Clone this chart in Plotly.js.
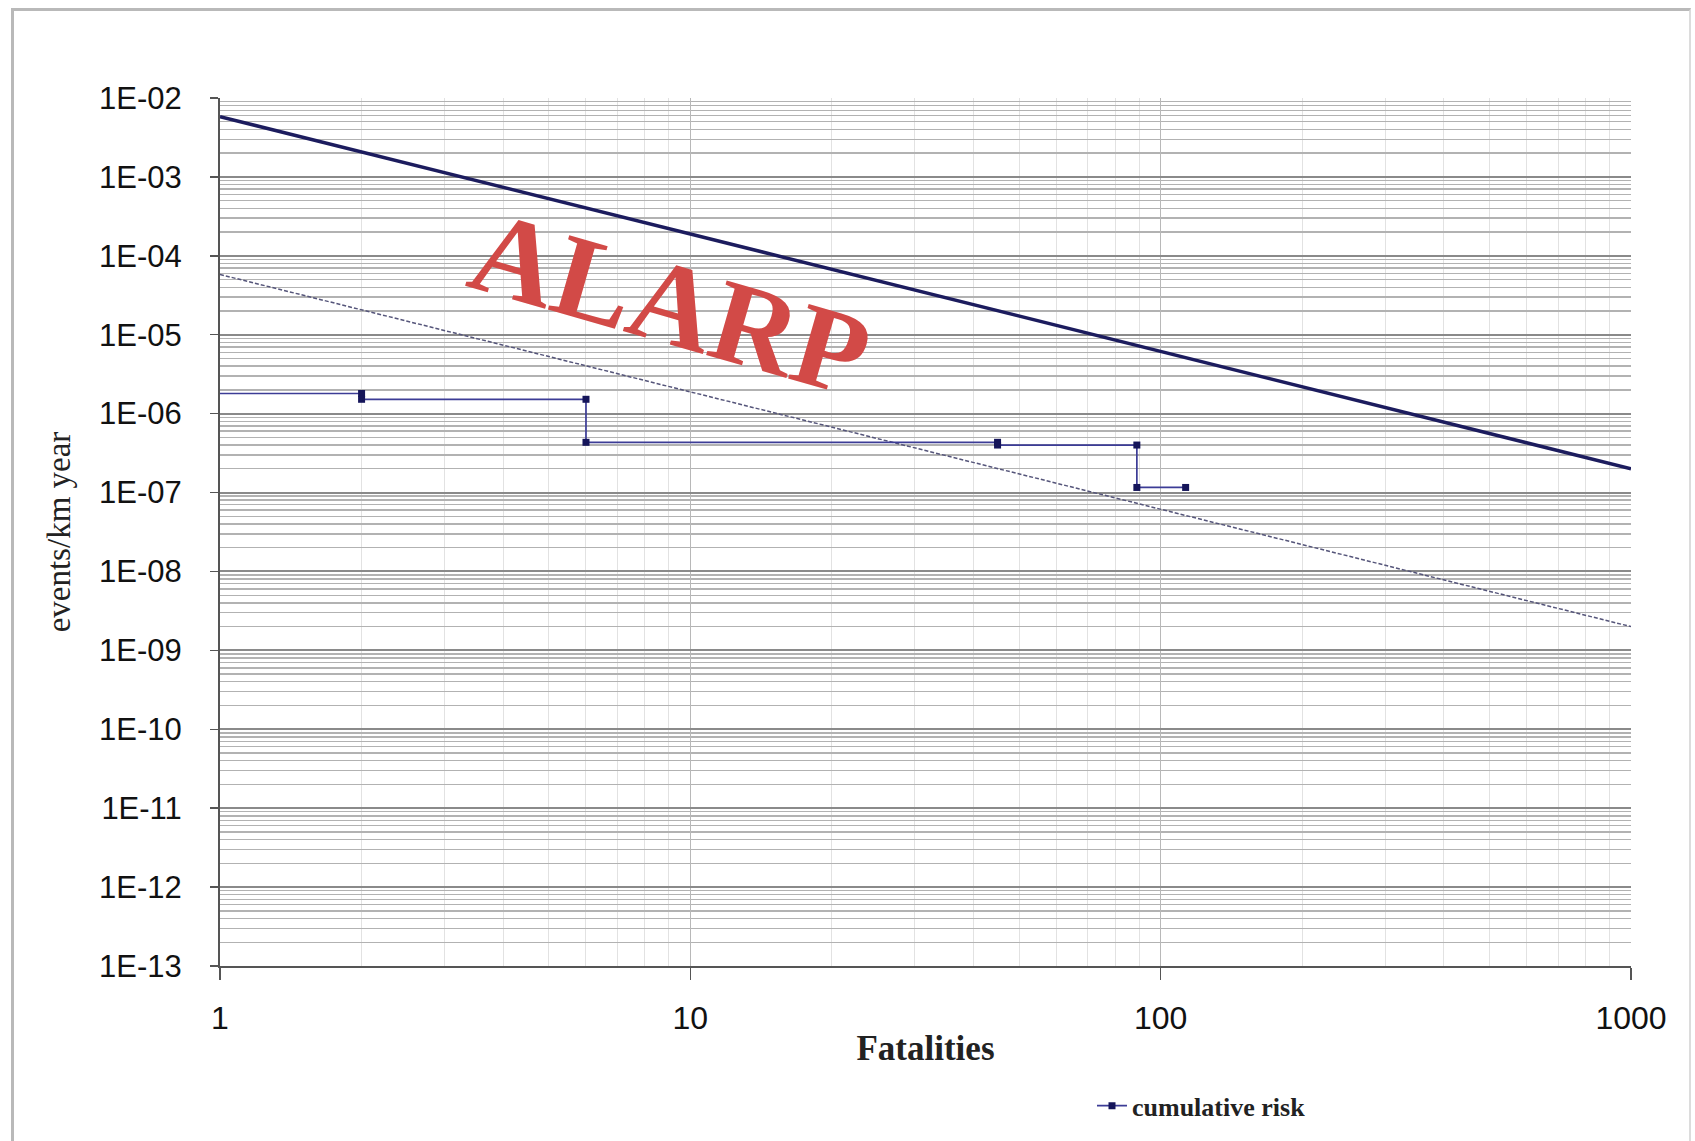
<!DOCTYPE html>
<html>
<head>
<meta charset="utf-8">
<script src="https://cdn.plot.ly/plotly-3.0.1.min.js"></script>
<style>
  html, body { margin: 0; padding: 0; background: #ffffff; overflow: hidden; }
  #frame { position: absolute; left: 11px; top: 8px; width: 1675px; height: 1140px;
           border-left: 3px solid #b9b9b9; border-top: 3px solid #b9b9b9; border-right: 2px solid #dcdcdc; }
  #chart { position: absolute; left: 0; top: 0; width: 1695px; height: 1141px; }
</style>
</head>
<body>
<div id="frame"></div>
<div id="chart"></div>
<script>
// ---- data ----
const limitFatalities = [1, 1000];
const upperLimit = [5.8e-3, 2.0e-7];          // intolerable line
const lowerLimit = [5.8e-5, 2.0e-9];          // negligible line (dashed)

const stepFatalities = [1, 2, 2, 6, 6, 45, 45, 89, 89, 113];
const stepRisk = [1.8e-6, 1.8e-6, 1.52e-6, 1.52e-6, 4.33e-7, 4.33e-7, 4.0e-7, 4.0e-7, 1.16e-7, 1.16e-7];

const xTickVals = [1, 10, 100, 1000];
const xTickText = ['1', '10', '100', '1000'];
const yTickVals = [1e-13, 1e-12, 1e-11, 1e-10, 1e-9, 1e-8, 1e-7, 1e-6, 1e-5, 1e-4, 1e-3, 1e-2];
const yTickText = ['1E-13', '1E-12', '1E-11', '1E-10', '1E-09', '1E-08', '1E-07', '1E-06', '1E-05', '1E-04', '1E-03', '1E-02'];

const seriesName = 'cumulative risk';
const regionLabel = 'ALARP';
const xTitle = 'Fatalities';
const yTitle = 'events/km year';

// ---- traces ----
const traces = [
  {
    x: limitFatalities, y: upperLimit, mode: 'lines', showlegend: false, hoverinfo: 'skip',
    line: { color: '#1c1c5e', width: 3.5 }
  },
  {
    x: limitFatalities, y: lowerLimit, mode: 'lines', showlegend: false, hoverinfo: 'skip',
    line: { color: '#55557a', width: 1.5, dash: '4px,2px' }
  },
  {
    // lead-in segment of the step curve (no marker at the axis)
    x: stepFatalities.slice(0, 2), y: stepRisk.slice(0, 2), mode: 'lines', showlegend: false,
    line: { color: '#3c3c96', width: 1.7 }
  },
  {
    name: seriesName,
    x: stepFatalities.slice(1), y: stepRisk.slice(1), mode: 'lines+markers',
    line: { color: '#3c3c96', width: 1.7 },
    marker: { symbol: 'square', size: 7, color: '#15155a' }
  }
];

const layout = {
  width: 1695, height: 1141,
  margin: { l: 220, r: 64, t: 98, b: 175 },
  paper_bgcolor: 'rgba(0,0,0,0)',
  plot_bgcolor: '#ffffff',
  font: { family: 'Liberation Sans, Arial, sans-serif', color: '#111111' },
  xaxis: {
    type: 'log', range: [0, 3],
    tickmode: 'array', tickvals: xTickVals, ticktext: xTickText,
    tickfont: { size: 32, family: 'Liberation Sans, Arial, sans-serif', color: '#111' },
    ticks: 'outside', ticklen: 12, tickwidth: 1.5, tickcolor: '#555',
    ticklabelstandoff: 11,
    showline: true, linecolor: '#555', linewidth: 2,
    showgrid: true, gridcolor: '#b8b8b8', gridwidth: 1,
    minor: { dtick: 'D1', showgrid: true, gridcolor: '#e2e2e2', gridwidth: 1, ticks: '' },
    zeroline: false,
    title: { text: '<b>' + xTitle + '</b>', font: { family: 'Liberation Serif, Times New Roman, serif', size: 35, color: '#222' }, standoff: 0 }
  },
  yaxis: {
    type: 'log', range: [-13, -2],
    tickmode: 'array', tickvals: yTickVals, ticktext: yTickText,
    tickfont: { size: 31, family: 'Liberation Sans, Arial, sans-serif', color: '#111' },
    ticks: 'outside', ticklen: 8, tickwidth: 1.5, tickcolor: '#555',
    ticklabelstandoff: 22,
    showline: true, linecolor: '#555', linewidth: 2,
    showgrid: true, gridcolor: '#8a8a8a', gridwidth: 2,
    minor: { dtick: 'D1', showgrid: true, gridcolor: '#b2b2b2', gridwidth: 1.4, ticks: '' },
    zeroline: false,
    title: { text: yTitle, font: { family: 'Liberation Serif, Times New Roman, serif', size: 33, color: '#222' }, standoff: 19 }
  },
  showlegend: true,
  legend: {
    x: 0.618, y: -0.161, xanchor: 'left', yanchor: 'middle',
    bgcolor: 'rgba(0,0,0,0)', borderwidth: 0,
    font: { family: 'Liberation Serif, Times New Roman, serif', size: 26, color: '#222', weight: 'bold' },
    itemwidth: 30
  },
  annotations: [
    {
      xref: 'paper', yref: 'paper', x: 0.3187, y: 0.7627, xanchor: 'center', yanchor: 'middle',
      text: '<b>' + regionLabel + '</b>', showarrow: false, textangle: 16,
      font: { family: 'Liberation Serif, Times New Roman, serif', size: 118, color: '#d24a47' }
    }
  ]
};

Plotly.newPlot('chart', traces, layout, { displayModeBar: false, staticPlot: true });
</script>
</body>
</html>
